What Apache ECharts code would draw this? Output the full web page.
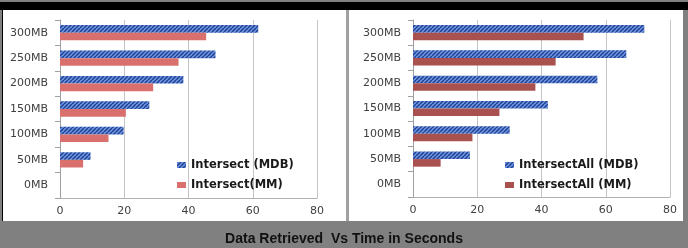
<!DOCTYPE html>
<html><head><meta charset="utf-8">
<script src="https://cdn.jsdelivr.net/npm/echarts@6/dist/echarts.min.js"></script>
<style>html,body{margin:0;padding:0;background:#808080}#c{width:688px;height:248px}</style>
</head><body><div id="c"></div>
<script>
var categories = ['0MB','50MB','100MB','150MB','200MB','250MB','300MB'];
var xTicks = [0,20,40,60,80];
var intersectMDB = [0, 9.5, 19.8, 27.8, 38.4, 48.4, 61.7];
var intersectMM  = [0, 7.2, 15.1, 20.5, 29.0, 36.9, 45.5];
var intersectAllMDB = [0, 17.7, 30.1, 42.0, 57.4, 66.4, 72.0];
var intersectAllMM  = [0, 8.6, 18.5, 26.9, 38.1, 44.4, 53.1];
var names = ['Intersect (MDB)','Intersect(MM)','IntersectAll (MDB)','IntersectAll (MM)'];
var title = 'Data Retrieved  Vs Time in Seconds';

function hatch(){
  var c = document.createElement('canvas'); c.width = 4; c.height = 4;
  var g = c.getContext('2d');
  g.fillStyle = '#6f97dd'; g.fillRect(0,0,4,4);
  g.strokeStyle = '#1f3f96'; g.lineWidth = 1.4;
  for (var k=-4;k<=8;k+=4){ g.beginPath(); g.moveTo(k,4); g.lineTo(k+4,0); g.stroke(); }
  return {image:c, repeat:'repeat'};
}
var pat = hatch();
var chart = echarts.init(document.getElementById('c'));
var labelFont = {fontFamily:'DejaVu Sans', fontSize:11, color:'#404040'};
function xAxis(i){ return {gridIndex:i, type:'value', min:xTicks[0], max:xTicks[xTicks.length-1], interval:20,
  axisLine:{show:true, lineStyle:{color:'#b0b0b0'}}, axisTick:{show:false}, splitLine:{lineStyle:{color:'#c4c4c4'}},
  axisLabel:Object.assign({margin:8}, labelFont)}; }
function yAxis(i){ return {gridIndex:i, type:'category', data:categories,
  axisLine:{lineStyle:{color:'#a0a0a0'}}, axisTick:{show:true, length:5, lineStyle:{color:'#a0a0a0'}},
  axisLabel:Object.assign({margin:12}, labelFont)}; }
function bar(name, data, i, color){ return {name:name, type:'bar', xAxisIndex:i, yAxisIndex:i, data:data,
  barGap:'0%', barCategoryGap:'40%', itemStyle:{color:color}, emphasis:{disabled:true}}; }
var legendText = {fontFamily:'DejaVu Sans', fontSize:11.5, fontWeight:'bold', color:'#1a1a1a'};
chart.setOption({
  animation:false,
  backgroundColor:'#808080',
  graphic:[
    {type:'rect', shape:{x:0,y:2,width:688,height:8}, style:{fill:'#000'}, z:-10},
    {type:'rect', shape:{x:2,y:2,width:1,height:219}, style:{fill:'#000'}, z:-10},
    {type:'rect', shape:{x:3,y:10,width:343,height:211}, style:{fill:'#fff'}, z:-10},
    {type:'rect', shape:{x:346,y:10,width:3,height:211}, style:{fill:'#a0a0a0'}, z:-10},
    {type:'rect', shape:{x:349,y:10,width:334,height:211}, style:{fill:'#fff'}, z:-10},
    {type:'text', left:'center', top:232, style:{text:title, font:'bold 14px "Liberation Sans"', fill:'#111'}}
  ],
  grid:[{left:60, right:371, top:20, bottom:50},{left:413, right:18, top:20, bottom:51}],
  xAxis:[xAxis(0), xAxis(1)],
  yAxis:[yAxis(0), yAxis(1)],
  legend:[
    {data:[names[0],names[1]], orient:'vertical', left:172, top:154, itemWidth:9, itemHeight:6, itemGap:8, icon:'rect', textStyle:legendText},
    {data:[names[2],names[3]], orient:'vertical', left:500, top:154, itemWidth:9, itemHeight:6, itemGap:8, icon:'rect', textStyle:legendText}
  ],
  series:[
    bar(names[0], intersectMDB, 0, pat),
    bar(names[1], intersectMM, 0, '#d9706e'),
    bar(names[2], intersectAllMDB, 1, pat),
    bar(names[3], intersectAllMM, 1, '#a9514f')
  ]
});
</script></body></html>
